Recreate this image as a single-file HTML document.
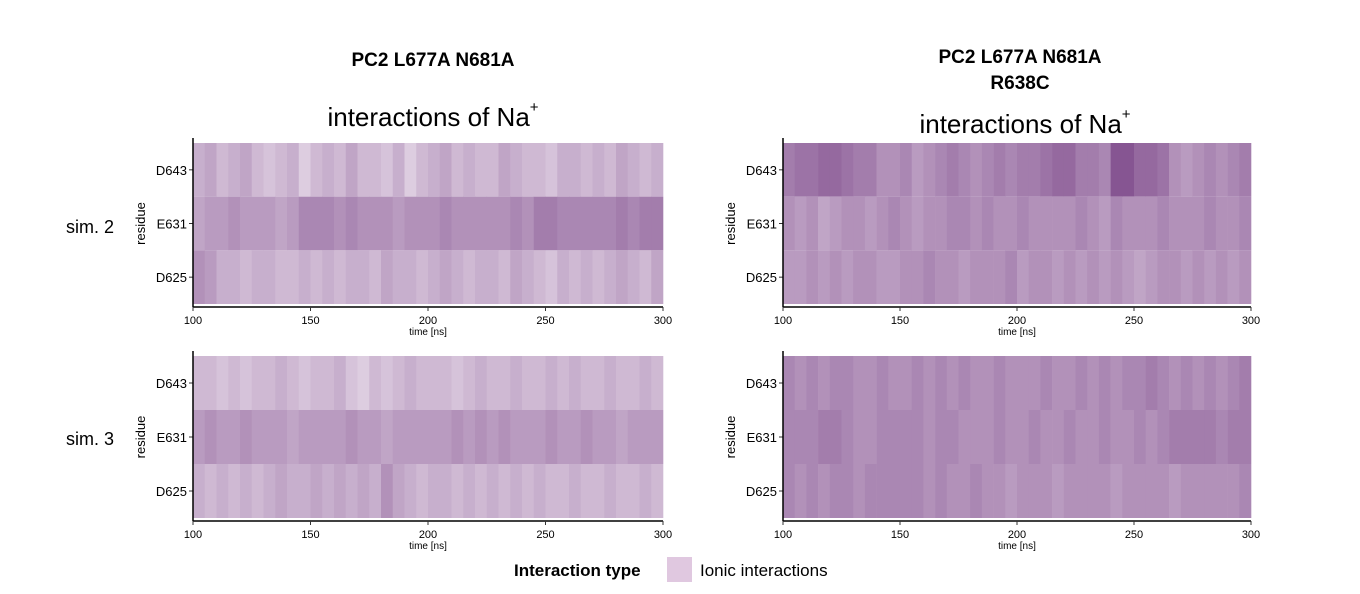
<!DOCTYPE html>
<html><head><meta charset="utf-8"><style>
body{margin:0;background:#fff;}
svg{display:block;font-family:"Liberation Sans",Arial,sans-serif;}
</style></head><body>
<svg id="chart" width="1360" height="594" viewBox="0 0 1360 594">
<g>
<text x="433" y="66" font-size="19" font-weight="bold" text-anchor="middle">PC2 L677A N681A</text>
<text x="433" y="126" font-size="26" text-anchor="middle">interactions of Na<tspan font-size="15" dy="-14">+</tspan></text>
</g>
<g>
<text x="1020" y="63" font-size="19" font-weight="bold" text-anchor="middle">PC2 L677A N681A</text>
<text x="1020" y="89" font-size="19" font-weight="bold" text-anchor="middle">R638C</text>
<text x="1025" y="133" font-size="26" text-anchor="middle">interactions of Na<tspan font-size="15" dy="-14">+</tspan></text>
</g>
<text x="90" y="233" font-size="18" text-anchor="middle">sim. 2</text>
<text x="90" y="445" font-size="18" text-anchor="middle">sim. 3</text>
<g>
<text x="514" y="576" font-size="17" font-weight="bold">Interaction type</text>
<rect x="667" y="557" width="25" height="25" fill="#e0c8e0"></rect>
<text x="700" y="576" font-size="17">Ionic interactions</text>
</g>
<g id="panels"></g>
</svg>
<script>
const residues = ["D643","E631","D625"];
const xTicks = [100,150,200,250,300];
// intensities per 5 ns segment (100-300 ns), 0=white, 1=dark purple
const tl_D643 = [0.35,0.4,0.3,0.35,0.4,0.3,0.25,0.3,0.35,0.2,0.3,0.35,0.3,0.4,0.3,0.3,0.25,0.35,0.2,0.3,0.35,0.4,0.3,0.35,0.3,0.3,0.4,0.35,0.3,0.3,0.25,0.35,0.35,0.3,0.35,0.3,0.4,0.35,0.3,0.35];
const tl_E631 = [0.4,0.45,0.45,0.5,0.45,0.45,0.45,0.4,0.45,0.55,0.55,0.55,0.5,0.55,0.5,0.5,0.5,0.45,0.5,0.5,0.5,0.55,0.5,0.5,0.5,0.5,0.5,0.55,0.5,0.6,0.6,0.55,0.55,0.55,0.55,0.55,0.6,0.55,0.6,0.6];
const tl_D625 = [0.5,0.45,0.35,0.35,0.3,0.35,0.35,0.3,0.3,0.35,0.3,0.35,0.3,0.35,0.35,0.3,0.4,0.35,0.35,0.3,0.35,0.4,0.35,0.3,0.35,0.35,0.3,0.4,0.35,0.3,0.25,0.35,0.3,0.35,0.3,0.35,0.4,0.35,0.3,0.4];
const tr_D643 = [0.6,0.65,0.65,0.7,0.7,0.65,0.6,0.6,0.5,0.5,0.55,0.45,0.5,0.55,0.6,0.55,0.5,0.55,0.6,0.55,0.6,0.6,0.65,0.7,0.7,0.6,0.6,0.55,0.8,0.8,0.7,0.7,0.65,0.5,0.45,0.5,0.55,0.5,0.55,0.6];
const tr_E631 = [0.5,0.45,0.5,0.4,0.45,0.5,0.5,0.45,0.5,0.55,0.5,0.45,0.5,0.5,0.55,0.55,0.5,0.55,0.5,0.5,0.55,0.5,0.5,0.5,0.5,0.55,0.5,0.45,0.55,0.5,0.5,0.5,0.55,0.5,0.5,0.5,0.55,0.5,0.5,0.55];
const tr_D625 = [0.45,0.45,0.5,0.45,0.5,0.45,0.5,0.5,0.45,0.45,0.5,0.5,0.55,0.5,0.5,0.45,0.5,0.5,0.5,0.55,0.45,0.5,0.5,0.45,0.5,0.45,0.5,0.45,0.5,0.45,0.4,0.45,0.5,0.5,0.45,0.5,0.45,0.5,0.45,0.5];
const bl_D643 = [0.3,0.3,0.25,0.3,0.25,0.3,0.3,0.35,0.3,0.25,0.3,0.3,0.35,0.25,0.2,0.3,0.25,0.3,0.35,0.3,0.3,0.3,0.25,0.3,0.35,0.3,0.3,0.35,0.3,0.3,0.35,0.3,0.35,0.3,0.3,0.35,0.3,0.3,0.35,0.3];
const bl_E631 = [0.45,0.5,0.45,0.45,0.5,0.45,0.45,0.45,0.4,0.45,0.45,0.45,0.45,0.5,0.45,0.45,0.4,0.45,0.45,0.45,0.45,0.45,0.5,0.45,0.5,0.45,0.5,0.45,0.45,0.45,0.5,0.45,0.45,0.5,0.45,0.45,0.4,0.45,0.45,0.45];
const bl_D625 = [0.35,0.3,0.35,0.3,0.35,0.3,0.35,0.4,0.35,0.35,0.4,0.35,0.4,0.35,0.4,0.35,0.5,0.4,0.35,0.3,0.35,0.35,0.3,0.35,0.3,0.35,0.3,0.35,0.3,0.35,0.3,0.3,0.35,0.3,0.3,0.35,0.3,0.3,0.35,0.3];
const br_D643 = [0.55,0.5,0.55,0.5,0.55,0.55,0.5,0.5,0.55,0.5,0.5,0.55,0.5,0.55,0.5,0.55,0.5,0.5,0.55,0.5,0.5,0.5,0.55,0.5,0.5,0.55,0.5,0.55,0.5,0.55,0.55,0.6,0.55,0.5,0.55,0.5,0.55,0.5,0.55,0.6];
const br_E631 = [0.55,0.55,0.55,0.6,0.6,0.55,0.5,0.5,0.55,0.55,0.55,0.55,0.5,0.55,0.55,0.5,0.5,0.5,0.55,0.5,0.5,0.55,0.5,0.5,0.55,0.5,0.5,0.55,0.5,0.5,0.55,0.5,0.55,0.6,0.6,0.6,0.6,0.55,0.6,0.6];
const br_D625 = [0.55,0.5,0.55,0.5,0.55,0.55,0.5,0.55,0.55,0.55,0.55,0.55,0.5,0.55,0.5,0.5,0.55,0.5,0.5,0.45,0.5,0.5,0.5,0.45,0.5,0.5,0.5,0.5,0.45,0.5,0.5,0.5,0.5,0.45,0.5,0.5,0.5,0.5,0.5,0.55];

const NS="http://www.w3.org/2000/svg";
function mk(tag,attrs,parent){const e=document.createElementNS(NS,tag);for(const k in attrs)e.setAttribute(k,attrs[k]);parent.appendChild(e);return e;}
function color(t){const a=[250,245,250],b=[105,45,120];return "rgb("+a.map((v,i)=>Math.round(v+(b[i]-v)*t)).join(",")+")";}
const panels=[
 {name:"panel-sim2-wt",x0:193,x1:663,top:143,bot:304,axis:307,rows:[tl_D643,tl_E631,tl_D625]},
 {name:"panel-sim2-r638c",x0:783,x1:1251,top:143,bot:304,axis:307,rows:[tr_D643,tr_E631,tr_D625]},
 {name:"panel-sim3-wt",x0:193,x1:663,top:356,bot:518,axis:521,rows:[bl_D643,bl_E631,bl_D625]},
 {name:"panel-sim3-r638c",x0:783,x1:1251,top:356,bot:518,axis:521,rows:[br_D643,br_E631,br_D625]}
];
const root=document.getElementById("panels");
panels.forEach(p=>{
 const g=mk("g",{},root);
 
 
 const xs=v=>p.x0+(v-100)/200*(p.x1-p.x0);
 const rh=(p.bot-p.top)/residues.length;
 residues.forEach((r,ri)=>{
  const vals=p.rows[ri];const step=200/vals.length;
  vals.forEach((v,i)=>{
   const x=xs(100+i*step),w=xs(100+(i+1)*step)-x;
   const c=mk("rect",{x:x,y:p.top+ri*rh,width:w+0.3,height:rh,fill:color(v)},g);
   
   
  });
  const yc=p.top+(ri+0.5)*rh;
  mk("line",{x1:p.x0-4,x2:p.x0,y1:yc,y2:yc,stroke:"#333","stroke-width":1},g);
  const t=mk("text",{x:p.x0-6,y:yc+5,"font-size":13,"text-anchor":"end"},g);
  t.textContent=r;
  
  
 });
 mk("line",{x1:p.x0,x2:p.x0,y1:p.top-5,y2:p.axis,stroke:"#000","stroke-width":1.5},g);
 mk("line",{x1:p.x0,x2:p.x1,y1:p.axis,y2:p.axis,stroke:"#000","stroke-width":1.5},g);
 xTicks.forEach(v=>{
  mk("line",{x1:xs(v),x2:xs(v),y1:p.axis,y2:p.axis+4,stroke:"#333"},g);
  const t=mk("text",{x:xs(v),y:p.axis+17,"font-size":11,"text-anchor":"middle"},g);
  t.textContent=v;
  
  
 });
 const xt=mk("text",{x:(p.x0+p.x1)/2,y:p.axis+28,"font-size":10,"text-anchor":"middle"},g);
 xt.textContent="time [ns]";
 
 
 const yt=mk("text",{x:0,y:0,"font-size":13,"text-anchor":"middle",transform:"translate("+(p.x0-48)+","+((p.top+p.bot)/2)+") rotate(-90)"},g);
 yt.textContent="residue";
 
 
});
</script>
</body></html>
